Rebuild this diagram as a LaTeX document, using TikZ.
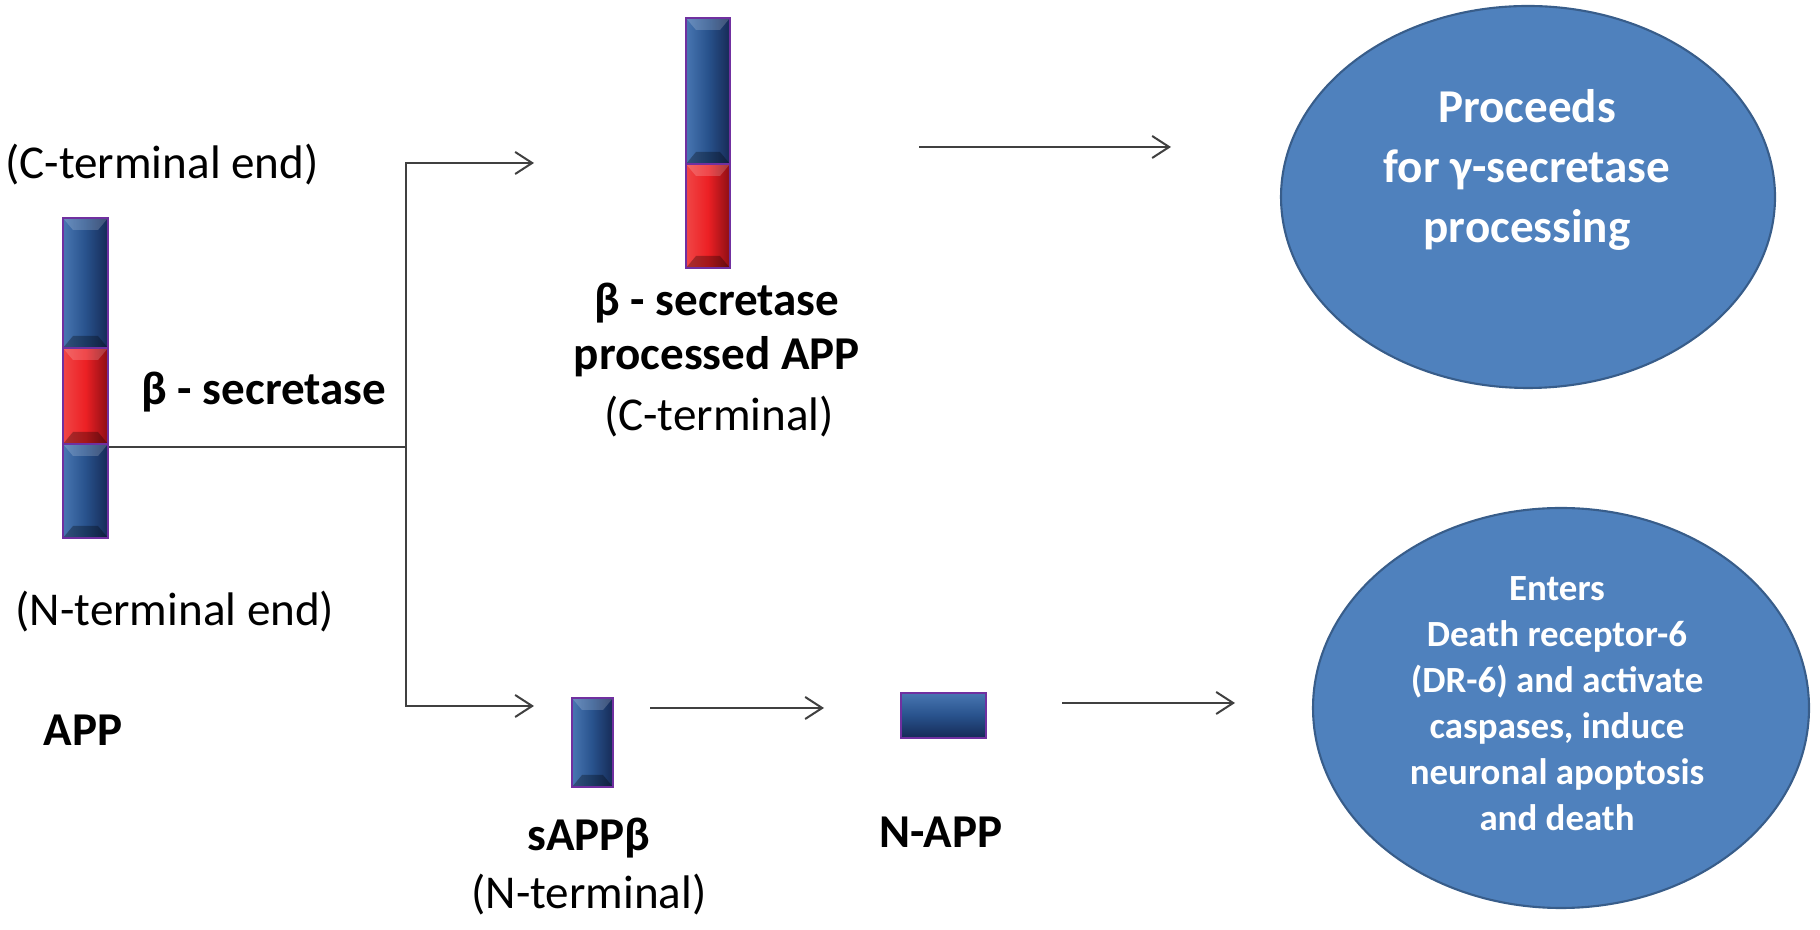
\documentclass[tikz,border=0pt]{standalone}
\usepackage{fontspec}
\setmainfont{Carlito}
\usepackage{tikz}
\usepackage{xcolor}
\usetikzlibrary{arrows.meta,shapes.geometric,positioning}

\definecolor{barblue}{RGB}{40,82,140}
\definecolor{barbluelight}{RGB}{72,118,178}
\definecolor{barbluedark}{RGB}{22,42,86}
\definecolor{barred}{RGB}{236,32,36}
\definecolor{barredlight}{RGB}{240,70,70}
\definecolor{barreddark}{RGB}{140,14,20}
\definecolor{barpurple}{RGB}{112,48,160}
\definecolor{ovalblue}{RGB}{79,129,189}
\definecolor{ovaledge}{RGB}{56,93,138}

\begin{document}
\begin{tikzpicture}[x=0.1mm,y=-0.1mm,
    bevel/.style={path picture={
        \fill[white, opacity=0.18] (path picture bounding box.north west) -- (path picture bounding box.north east)
            -- ([xshift=-1mm,yshift=-1.2mm]path picture bounding box.north east) -- ([xshift=1mm,yshift=-1.2mm]path picture bounding box.north west) -- cycle;
        \fill[black, opacity=0.3] (path picture bounding box.south west) -- (path picture bounding box.south east)
            -- ([xshift=-1mm,yshift=1.2mm]path picture bounding box.south east) -- ([xshift=1mm,yshift=1.2mm]path picture bounding box.south west) -- cycle;}},
    bluebar/.style={rectangle, draw=barpurple, line width=0.8pt, inner sep=0pt, left color=barbluelight, right color=barbluedark, middle color=barblue, bevel},
    redbar/.style={rectangle, draw=barpurple, line width=0.8pt, inner sep=0pt, left color=barredlight, right color=barreddark, middle color=barred, bevel},
    hbar/.style={rectangle, draw=barpurple, line width=0.8pt, inner sep=0pt, top color=barbluelight, bottom color=barbluedark, middle color=barblue},
    lbl/.style={inner sep=0pt, font=\fontsize{13.4}{15.6}\selectfont},
    blbl/.style={inner sep=0pt, align=center, font=\fontsize{13.4}{15.6}\selectfont\bfseries},
    oval/.style={ellipse, draw=ovaledge, fill=ovalblue, line width=0.6pt, inner sep=0pt},
    otxt/.style={inner sep=0pt, align=center, text=white, font=\fontsize{13.4}{17}\selectfont\bfseries},
    otxtsmall/.style={inner sep=0pt, align=center, text=white, font=\fontsize{10.5}{13.1}\selectfont\bfseries},
    arr/.style={draw=black!75, line width=0.57pt, -{Straight Barb[length=1.7mm,width=2.2mm]}},
    link/.style={draw=black!75, line width=0.57pt}]

    \useasboundingbox (0,0) rectangle (1820,930);

    \node[bluebar, minimum width=4.5mm, minimum height=13mm] (appC) at (85.5,283) {};
    \node[redbar, minimum width=4.5mm, minimum height=9.6mm] (appR) at (85.5,396) {};
    \node[bluebar, minimum width=4.5mm, minimum height=9.4mm] (appN) at (85.5,491) {};
    \node[lbl] (cend) at (162,165) {(C-terminal end)};
    \node[blbl] (bsec) at (264,392) {β - secretase};
    \node[lbl] (nend) at (175,612) {(N-terminal end)};
    \node[blbl] (applbl) at (83,730) {APP};

    \node[bluebar, minimum width=4.4mm, minimum height=14.6mm] (prodC) at (708,91) {};
    \node[redbar, minimum width=4.4mm, minimum height=10.4mm] (prodR) at (708,216) {};
    \node[blbl] (prodlbl) at (717,330) {β - secretase\\processed APP};
    \node[lbl] (prodterm) at (719,417) {(C-terminal)};

    \node[bluebar, minimum width=4.1mm, minimum height=8.9mm] (sapp) at (592.5,742.5) {};
    \node[blbl] (sapplbl) at (589,838) {sAPPβ};
    \node[lbl] (sappterm) at (589,895) {(N-terminal)};

    \node[hbar, minimum width=8.5mm, minimum height=4.5mm] (napp) at (943.5,715.5) {};
    \node[blbl] (napplbl) at (941,832) {N-APP};

    \node[oval, minimum width=49.4mm, minimum height=38.2mm] (gsec) at (1528,197) {};
    \node[otxt] (gsectxt) at (1527,170) {Proceeds\\for γ-secretase\\processing};
    \node[oval, minimum width=49.6mm, minimum height=40mm] (dr6) at (1561,708) {};
    \node[otxtsmall] (dr6txt) at (1557,704) {Enters\\Death receptor-6\\(DR-6) and activate\\caspases, induce\\neuronal apoptosis\\and death};

    \coordinate (split) at (406,447);
    \coordinate (upend) at (534,163);
    \coordinate (lowend) at (534,706);
    \coordinate (gfrom) at (919,147);
    \coordinate (gto) at (1171,147);
    \coordinate (sfrom) at (650,708);
    \coordinate (sto) at (824,708);
    \coordinate (nfrom) at (1062,703);
    \coordinate (nto) at (1235,703);

    \draw[link] (appR.east |- split) -- (split);
    \draw[arr] (split) |- (upend);
    \draw[arr] (split) |- (lowend);
    \draw[arr] (gfrom) -- (gto);
    \draw[arr] (sfrom) -- (sto);
    \draw[arr] (nfrom) -- (nto);
\end{tikzpicture}
\end{document}
